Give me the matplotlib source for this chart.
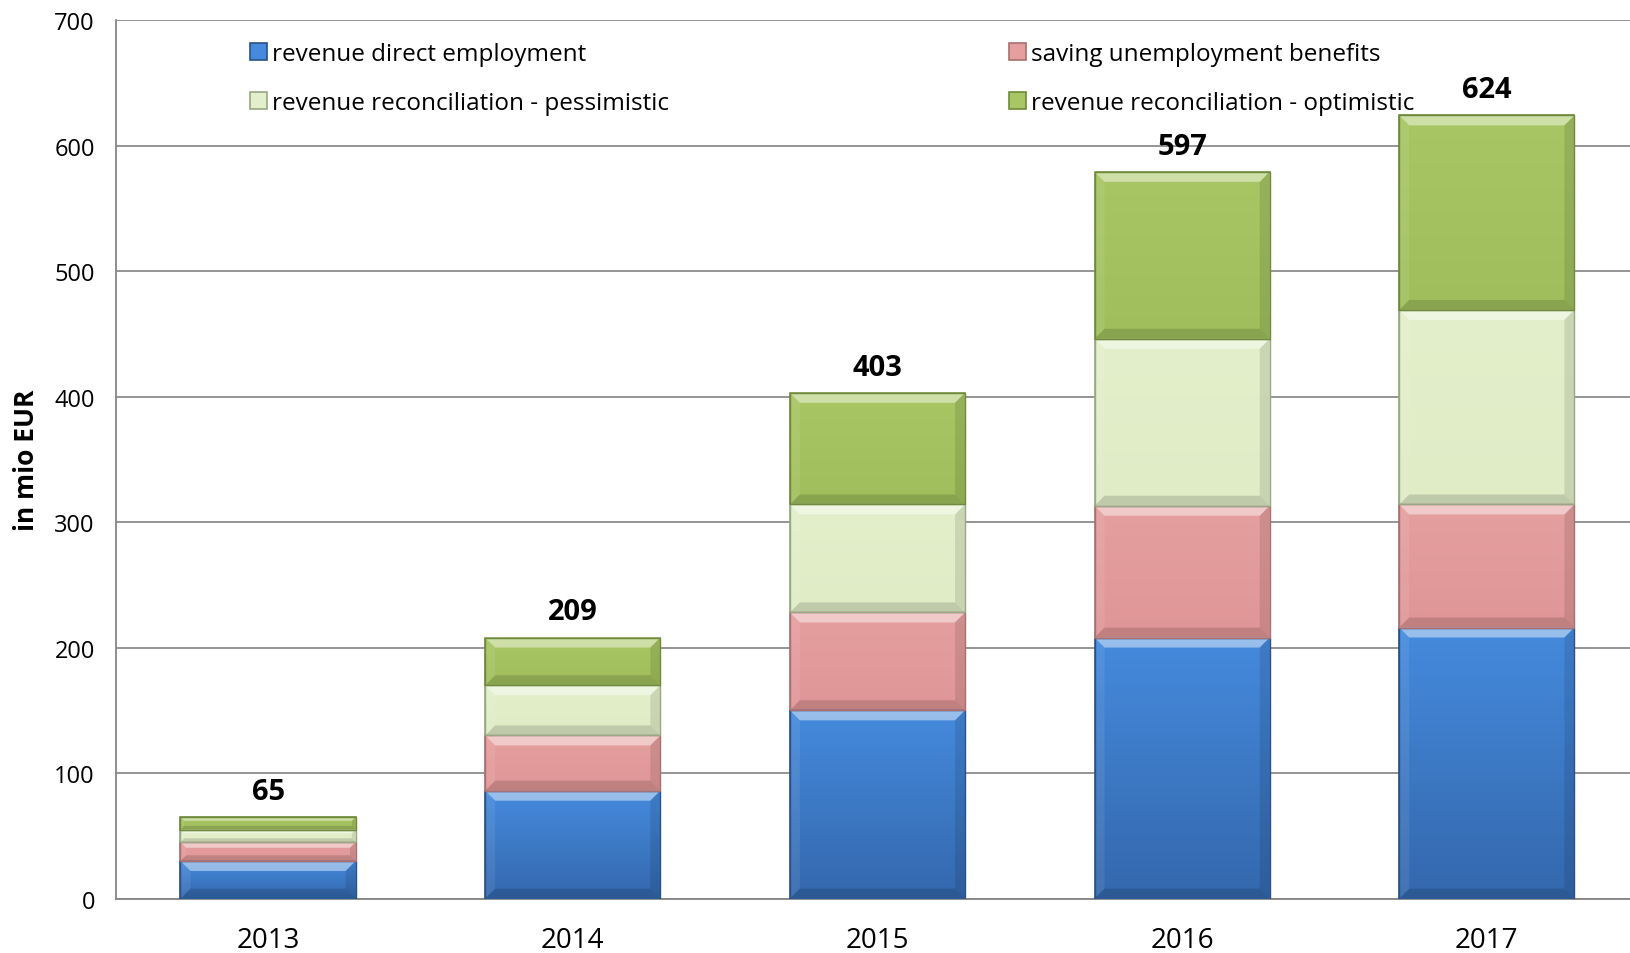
import matplotlib
matplotlib.use("Agg")
import numpy as np
import matplotlib.pyplot as plt
from matplotlib.colors import LinearSegmentedColormap

plt.rcParams['font.family'] = ['Open Sans', 'DejaVu Sans']

years = ['2013', '2014', '2015', '2016', '2017']
direct = [30, 86, 150, 208, 216]      # revenue direct employment
saving = [15, 44, 78, 105, 98]        # saving unemployment benefits
pessim = [10, 40, 86, 133, 155]       # revenue reconciliation - pessimistic
optim = [10, 38, 89, 133, 155]        # revenue reconciliation - optimistic
totals = [65, 209, 403, 597, 624]     # labels as printed

labels = ['revenue direct employment', 'saving unemployment benefits',
          'revenue reconciliation - pessimistic', 'revenue reconciliation - optimistic']
# (top colour, bottom colour)
colors = [('#458add', '#3468ad'), ('#e59f9f', '#e09696'),
          ('#e2efca', '#dfecc6'), ('#a8c663', '#a0bf5c')]
edges = ['#2a5287', '#a87070', '#98a884', '#6f8a3a']

fig = plt.figure(figsize=(16.3, 9.54), dpi=100)
ax = fig.add_axes([0.071, 0.057, 0.929, 0.921])

x = np.arange(len(years))
width = 0.575
ax.set_xlim(-0.5, 4.47)
ax.set_ylim(0, 700)

# bevel size, ~10 px in data units
dx = 10 / (fig.get_figwidth() * fig.dpi * 0.929) * 4.97
dy_px = 700 / (fig.get_figheight() * fig.dpi * 0.921)

bottom = np.zeros(len(years))
handles = []
for vals, (c1, c2), ec, lab in zip([direct, saving, pessim, optim], colors, edges, labels):
    bars = ax.bar(x, vals, width, bottom=bottom, color=c1, edgecolor=ec, linewidth=1.2,
                  label=lab, zorder=3)
    cmap = LinearSegmentedColormap.from_list('g', [c2, c1])
    grad = np.linspace(0, 1, 64).reshape(-1, 1)
    for b in bars:
        bx, by = b.get_x(), b.get_y()
        bw, bh = b.get_width(), b.get_height()
        im = ax.imshow(grad, cmap=cmap, origin='lower', aspect='auto',
                       extent=[bx, bx + bw, by, by + bh], zorder=3.5)
        im.set_clip_path(b)
        dy = min(10 * dy_px, bh * 0.3)
        d = dx * dy / (10 * dy_px)
        x0, x1, y0, y1 = bx, bx + bw, by, by + bh
        # top (light), bottom (dark), sides
        ax.fill([x0, x1, x1 - d, x0 + d], [y1, y1, y1 - dy, y1 - dy],
                color='white', alpha=0.45, lw=0, zorder=3.6)
        ax.fill([x0, x1, x1 - d, x0 + d], [y0, y0, y0 + dy, y0 + dy],
                color='black', alpha=0.14, lw=0, zorder=3.6)
        ax.fill([x0, x0 + d, x0 + d, x0], [y0, y0 + dy, y1 - dy, y1],
                color='white', alpha=0.08, lw=0, zorder=3.6)
        ax.fill([x1, x1 - d, x1 - d, x1], [y0, y0 + dy, y1 - dy, y1],
                color='black', alpha=0.10, lw=0, zorder=3.6)
        ax.add_patch(plt.Rectangle((bx, by), bw, bh, fill=False, edgecolor=ec,
                                   linewidth=1.0, zorder=3.7))
    handles.append(bars)
    bottom += np.array(vals)

for xi, top, t in zip(x, bottom, totals):
    ax.annotate(str(t), (xi, top), xytext=(0, 8), textcoords='offset points',
                ha='center', va='bottom', fontsize=21, fontweight='bold', zorder=5)

ax.set_yticks(range(0, 701, 100))
ax.set_xticks(x)
ax.set_xticklabels(years)
ax.tick_params(axis='x', length=0, pad=20, labelsize=20)
ax.tick_params(axis='y', length=0, labelsize=17, pad=15)
ax.grid(axis='y', color='#8c8c8c', linewidth=1.3, zorder=0)
for s in ['top', 'right']:
    ax.spines[s].set_visible(False)
for s in ['left', 'bottom']:
    ax.spines[s].set_color('#868686')
    ax.spines[s].set_linewidth(1.3)
ax.set_ylabel('in mio EUR', fontsize=19, fontweight='bold')
ax.yaxis.set_label_coords(-0.05, 0.5)

order = [0, 2, 1, 3]
ax.legend([handles[i] for i in order], [labels[i] for i in order], ncol=2,
          loc='upper left', bbox_to_anchor=(0.074, 1.0), frameon=False,
          fontsize=17.5, handlelength=0.7, handleheight=0.7, handletextpad=0.2,
          columnspacing=14.0, labelspacing=1.05)

fig.savefig('out.png', dpi=100)
